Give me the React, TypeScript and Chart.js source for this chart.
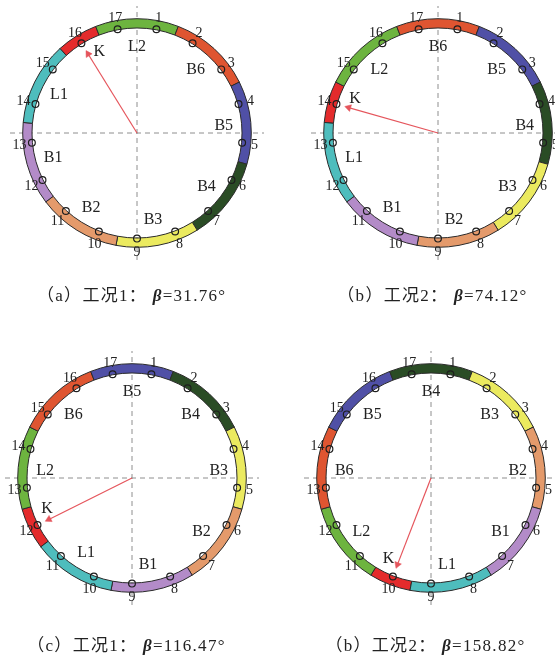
import React, { useEffect, useRef } from 'react';
import { Chart, registerables } from 'chart.js';

Chart.register(...registerables);

// ---------------- data ----------------
const stationLabels = ['1', '2', '3', '4', '5', '6', '7', '8', '9', '10', '11', '12', '13', '14', '15', '16', '17'];
const segmentNames = ['K', 'L2', 'B6', 'B5', 'B4', 'B3', 'B2', 'B1', 'L1'];
const segmentSpans = [1, 2, 2, 2, 2, 2, 2, 2, 2];
const segmentColors = ['#e42b2c', '#6db43f', '#df5531', '#5050a6', '#2a4c25', '#ebea5f', '#e49a6b', '#b38bc8', '#4ebdbd'];
const kStations = [16, 14, 12, 10];
const betaValues = [31.76, 74.12, 116.47, 158.82];
const captionTags = ['a', 'b', 'c', 'b'];
const caseNames = ['工况1', '工况2', '工况1', '工况2'];

// ---------------- layout ----------------
const panelCenters = [
  [136.7, 133.3],
  [437.5, 132.5],
  [131.5, 477.5],
  [430.5, 477.5],
];
const captionY = [296, 296, 646, 646];
const HALF = 140;
const R_OUT = 114.3;
const R_IN = 105;
const R_MID = (R_OUT + R_IN) / 2;
const R_NUM = 122.5;
const R_SEG = 90.5;
const R_K = 93.5;
const K_OFFSET = 7;
const R_ARROW = 100;
const CROSS = 127;

const SERIF = '"Liberation Serif", "Times New Roman", serif';
const DEG = Math.PI / 180;
const STEP = 360 / stationLabels.length;

function stationAngle(i: number) {
  // clockwise from top, station 9 at bottom
  return 180 + (i - 9) * STEP;
}
function polar(r: number, deg: number) {
  return { x: r * Math.sin(deg * DEG), y: r * Math.cos(deg * DEG) };
}

const commonOptions: any = {
  responsive: false,
  animation: false,
  events: [],
  layout: { padding: 0 },
  plugins: { legend: { display: false }, tooltip: { enabled: false } },
};
const scaleOptions: any = {
  x: { type: 'linear', min: -HALF, max: HALF, display: false },
  y: { type: 'linear', min: -HALF, max: HALF, display: false },
};

function Panel({ idx }: { idx: number }) {
  const lowRef = useRef<HTMLCanvasElement>(null);
  const ringRef = useRef<HTMLCanvasElement>(null);
  const topRef = useRef<HTMLCanvasElement>(null);
  const [cx, cy] = panelCenters[idx];

  useEffect(() => {
    const kAngle = stationAngle(kStations[idx]);
    const start = kAngle - STEP / 2;

    // crosshair (bottom layer)
    const dashed = {
      showLine: true,
      borderColor: '#8e8e8e',
      borderWidth: 1,
      borderDash: [5, 4],
      pointRadius: 0,
    };
    const c1 = new Chart(lowRef.current!, {
      type: 'scatter',
      data: {
        datasets: [
          { ...dashed, data: [{ x: -CROSS, y: 0 }, { x: CROSS, y: 0 }] },
          { ...dashed, data: [{ x: 0, y: -CROSS }, { x: 0, y: CROSS }] },
        ],
      } as any,
      options: { ...commonOptions, scales: scaleOptions },
    });

    // ring (middle layer)
    const c2 = new Chart(ringRef.current!, {
      type: 'doughnut',
      data: {
        labels: segmentNames,
        datasets: [
          {
            data: segmentSpans,
            backgroundColor: segmentColors,
            borderColor: '#2a2a2a',
            borderWidth: 1,
          },
        ],
      },
      options: {
        ...commonOptions,
        rotation: start,
        radius: R_OUT,
        cutout: `${(R_IN / R_OUT) * 100}%`,
      } as any,
    });

    // labels
    const texts: { text: string; x: number; y: number; size: number }[] = [];
    stationLabels.forEach((lab, i) => {
      const p = polar(R_NUM, stationAngle(i + 1));
      texts.push({ text: lab, x: p.x, y: p.y, size: 14 });
    });
    let cum = 0;
    segmentNames.forEach((name, i) => {
      const mid = start + (cum + segmentSpans[i] / 2) * STEP;
      cum += segmentSpans[i];
      const p = name === 'K' ? polar(R_K, mid + K_OFFSET) : polar(R_SEG, mid);
      texts.push({ text: name, x: p.x, y: p.y, size: 16 });
    });

    const textPlugin = {
      id: 'ringText',
      afterDatasetsDraw(chart: any) {
        const { ctx, scales } = chart;
        ctx.save();
        ctx.fillStyle = '#222';
        ctx.textAlign = 'center';
        ctx.textBaseline = 'middle';
        for (const t of texts) {
          ctx.font = `${t.size}px ${SERIF}`;
          ctx.fillText(t.text, scales.x.getPixelForValue(t.x), scales.y.getPixelForValue(t.y) + 1);
        }
        ctx.restore();
      },
    };

    const stations = stationLabels.map((_, i) => polar(R_MID, stationAngle(i + 1)));
    const arrowDir = 360 - betaValues[idx];
    const tip = polar(R_ARROW - 3.5, arrowDir);
    const red = '#e5555c';

    const c3 = new Chart(topRef.current!, {
      type: 'scatter',
      data: {
        datasets: [
          {
            data: stations,
            showLine: false,
            pointStyle: 'circle',
            pointRadius: 3.4,
            pointBorderWidth: 1.2,
            pointBorderColor: '#1e1e1e',
            pointBackgroundColor: 'rgba(0,0,0,0)',
          },
          {
            data: [{ x: 0, y: 0 }, tip],
            showLine: true,
            borderColor: red,
            borderWidth: 1.2,
            pointStyle: 'triangle',
            pointRadius: [0, 4],
            pointRotation: arrowDir,
            pointBackgroundColor: red,
            pointBorderColor: red,
            pointBorderWidth: 0.5,
          },
        ],
      } as any,
      options: { ...commonOptions, scales: scaleOptions },
      plugins: [textPlugin],
    });

    return () => {
      c1.destroy();
      c2.destroy();
      c3.destroy();
    };
  }, [idx]);

  const canvasStyle: React.CSSProperties = {
    position: 'absolute',
    left: cx - HALF,
    top: cy - HALF,
    width: HALF * 2,
    height: HALF * 2,
    display: 'block',
  };

  return (
    <>
      <canvas ref={lowRef} width={HALF * 2} height={HALF * 2} style={canvasStyle} />
      <canvas ref={ringRef} width={HALF * 2} height={HALF * 2} style={canvasStyle} />
      <canvas ref={topRef} width={HALF * 2} height={HALF * 2} style={canvasStyle} />
      <div
        style={{
          position: 'absolute',
          left: cx - 5 - 150,
          width: 300,
          top: captionY[idx] - 11,
          height: 22,
          lineHeight: '22px',
          textAlign: 'center',
          fontFamily: '"Liberation Serif", "Noto Sans CJK SC", serif',
          fontSize: 17,
          letterSpacing: '1.3px',
          color: '#222',
          whiteSpace: 'nowrap',
        }}
      >
        {`（${captionTags[idx]}）${caseNames[idx]}： `}
        <span style={{ fontWeight: 'bold', fontStyle: 'italic' }}>β</span>
        {`=${betaValues[idx].toFixed(2)}°`}
      </div>
    </>
  );
}

export default function App() {
  return (
    <div
      style={{
        position: 'absolute',
        left: 0,
        top: 0,
        width: 555,
        height: 657,
        background: '#fff',
        overflow: 'hidden',
      }}
    >
      {[0, 1, 2, 3].map((i) => (
        <Panel key={i} idx={i} />
      ))}
    </div>
  );
}
